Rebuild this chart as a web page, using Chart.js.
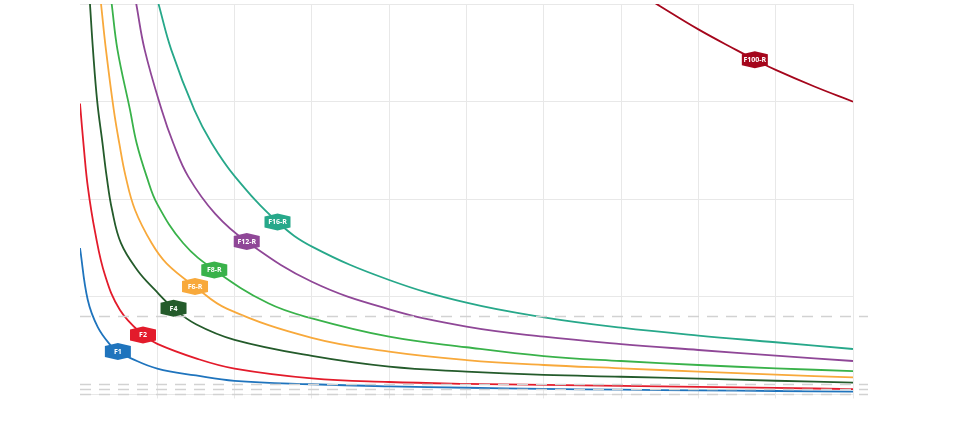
<!DOCTYPE html>
<html>
<head>
<meta charset="utf-8">
<script src="https://cdn.jsdelivr.net/npm/chart.js@4.4.1/dist/chart.umd.min.js"></script>
<style>
  html, body { margin: 0; padding: 0; background: #fff; }
  #wrap { width: 960px; height: 445px; }
</style>
</head>
<body>
<div id="wrap"><canvas id="curves"></canvas></div>
<script>
// series names and the x position of each name badge
const names = ['F1', 'F2', 'F4', 'F6-R', 'F8-R', 'F12-R', 'F16-R', 'F100-R'];
const labelX = [0.49, 0.815, 1.21, 1.488, 1.737, 2.157, 2.555, 8.73];
const colors = ['#1f74bd', '#e31b2b', '#245b2b', '#f8a93b', '#39b24a', '#8f4797', '#27a88a', '#a5061c'];

// values (x 0..10, y 0..400)
const xF1 = [0, 0.1, 0.23, 0.4, 0.49, 0.66, 1, 1.5, 2, 3, 4, 5, 6, 7, 8, 9, 10];
const yF1 = [150, 97, 69, 50, 44, 37, 26.5, 19.5, 14, 10.5, 8.3, 6.9, 5.8, 4.9, 4.2, 3.6, 3.0];

const xF2 = [0, 0.052, 0.103, 0.194, 0.323, 0.517, 0.815, 1, 1.5, 2, 3, 4, 5, 6, 7, 8, 9, 10];
const yF2 = [298, 250.5, 211.6, 166.8, 122.4, 86.6, 61, 51.8, 37, 26.5, 16.5, 12.8, 10.9, 9.8, 8.9, 7.8, 6.7, 5.6];

const xF4 = [0.1, 0.129, 0.168, 0.223, 0.291, 0.345, 0.415, 0.53, 0.74, 0.97, 1.21, 1.5, 2, 3, 4, 5, 6, 7, 8, 9, 10];
const yF4 = [435, 400, 353, 300, 257.4, 223.2, 189, 155, 127.6, 107.1, 88.3, 72, 56, 39.5, 28.5, 23.4, 20, 18.2, 16.2, 14.1, 12.1];

const xF6 = [0.24, 0.272, 0.336, 0.437, 0.508, 0.591, 0.712, 0.928, 1.122, 1.488, 1.898, 3, 4, 5, 6, 7, 8, 9, 10];
const yF6 = [423, 400, 353, 291.5, 257.4, 223.2, 189, 154.9, 134.1, 110.5, 88, 58, 43.9, 35.3, 30.2, 26.8, 23.4, 20.3, 17.6];

const xF8 = [0.37, 0.41, 0.485, 0.647, 0.733, 0.863, 1, 1.336, 1.737, 2.436, 3, 4, 5, 6, 7, 8, 9, 10];
const yF8 = [425, 400, 353, 291.5, 257.4, 223.2, 195, 154.9, 127.6, 93.4, 78, 59.2, 48.4, 39.4, 34.3, 30.2, 26.8, 24];

const xF12 = [0.68, 0.728, 0.837, 1.057, 1.207, 1.401, 1.75, 2.157, 3, 4, 5, 6, 7, 8, 9, 10];
const yF12 = [421, 400, 353, 291.5, 257.4, 223.2, 185, 156.6, 115.5, 87.3, 69.5, 59.2, 51.7, 45.6, 39.8, 34.3];

const xF16 = [0.95, 1.016, 1.181, 1.479, 1.704, 2.005, 2.555, 3.014, 4, 5, 6, 7, 8, 9, 10];
const yF16 = [419, 400, 353, 291.5, 257.4, 223.2, 176.7, 151, 117.3, 94, 79, 68.4, 60.3, 53.5, 46.6];

const xF100 = [7.3, 7.5, 8, 8.5, 8.73, 9, 9.5, 10];
const yF100 = [408, 398, 374, 352.5, 343, 332.5, 315.5, 300];

// dashed reference levels
const refLevels = [80, 10.5, 5.5, 0.5];

const xsAll = [xF1, xF2, xF4, xF6, xF8, xF12, xF16, xF100];
const ysAll = [yF1, yF2, yF4, yF6, yF8, yF12, yF16, yF100];

const datasets = names.map((name, i) => ({
  label: name,
  data: xsAll[i].map((x, j) => ({ x: x, y: ysAll[i][j] })),
  borderColor: colors[i],
  backgroundColor: colors[i],
  borderWidth: 1.8,
  pointRadius: 0,
  fill: false,
  tension: 0.4,
  clip: 0
}));

const refLinesAndBadges = {
  id: 'refLinesAndBadges',
  afterDatasetsDraw(chart) {
    const c = chart.ctx;
    const area = chart.chartArea;
    const yScale = chart.scales.y;

    c.save();
    c.strokeStyle = '#d2d2d2';
    c.lineWidth = 1.7;
    c.setLineDash([11, 8]);
    refLevels.forEach(v => {
      const py = Math.round(yScale.getPixelForValue(v)) + 0.5;
      c.beginPath();
      c.moveTo(area.left, py);
      c.lineTo(area.right + 15, py);
      c.stroke();
    });
    c.restore();

    names.forEach((name, i) => {
      const meta = chart.getDatasetMeta(i);
      const idx = xsAll[i].indexOf(labelX[i]);
      if (idx < 0) return;
      const pt = meta.data[idx];
      const w = 13, h = 8.5, s = 5.5;
      c.save();
      c.fillStyle = colors[i];
      c.beginPath();
      c.moveTo(pt.x - w, pt.y - s);
      c.lineTo(pt.x, pt.y - h);
      c.lineTo(pt.x + w, pt.y - s);
      c.lineTo(pt.x + w, pt.y + s);
      c.lineTo(pt.x, pt.y + h);
      c.lineTo(pt.x - w, pt.y + s);
      c.closePath();
      c.fill();
      c.fillStyle = '#ffffff';
      c.font = 'bold 7px "Open Sans", sans-serif';
      c.textAlign = 'center';
      c.textBaseline = 'middle';
      c.fillText(name, pt.x, pt.y + 0.5, 24);
      c.restore();
    });
  }
};

new Chart(document.getElementById('curves'), {
  type: 'line',
  data: { datasets: datasets },
  options: {
    responsive: true,
    maintainAspectRatio: false,
    animation: false,
    layout: { padding: { left: 80, right: 107, top: 4, bottom: 46.5 } },
    plugins: { legend: { display: false }, tooltip: { enabled: false } },
    scales: {
      x: {
        type: 'linear',
        min: 0,
        max: 10,
        ticks: { display: false, stepSize: 1 },
        border: { display: false },
        grid: {
          color: ctx => ctx.tick && ctx.tick.value === 0 ? 'rgba(0,0,0,0)' : '#e8e8e8',
          lineWidth: 1,
          drawTicks: true,
          tickLength: 4
        }
      },
      y: {
        type: 'linear',
        min: 0,
        max: 400,
        ticks: { display: false, stepSize: 100 },
        border: { display: false },
        grid: { color: '#e8e8e8', lineWidth: 1, drawTicks: false }
      }
    }
  },
  plugins: [refLinesAndBadges]
});
</script>
</body>
</html>
